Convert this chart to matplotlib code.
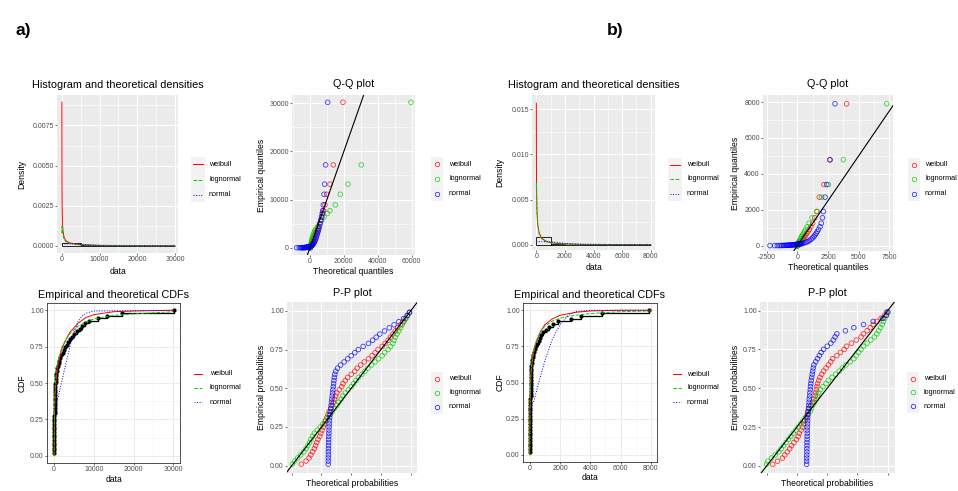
import numpy as np
import matplotlib
matplotlib.use("Agg")
import matplotlib.pyplot as plt
from matplotlib.lines import Line2D
from matplotlib.patches import Rectangle

plt.rcParams["font.family"] = ["Liberation Sans", "DejaVu Sans"]

W, H = 958, 491

# ==============================================================
# DATA
# ==============================================================

dist_names = ["weibull", "lognormal", "normal"]
fit_colors = ["#FF0000", "#00CD00", "#0000FF"]
fit_styles = ["-", "--", ":"]

# ---------- a) sample (sorted empirical quantiles) ----------
emp_a = [2, 5, 8, 12, 16, 20, 25, 30, 36, 42, 50, 58, 66, 75, 85, 96, 108, 120,
         135, 150, 168, 186, 205, 228, 252, 280, 310, 345, 385, 440,
         520, 640, 780, 940, 1120, 1340, 1580, 1850,
         2150, 2500, 2850, 3200, 3550, 3900,
         4400, 5000, 5700, 6400, 7100, 7700,
         8900, 11100, 13200, 17200, 30200]
qq_weib_a = [0, 1, 3, 6, 10, 15, 21, 28, 36, 45, 56, 68, 81, 96, 112, 130, 150, 172,
             196, 222, 250, 281, 314, 350, 390, 433, 480, 530, 585, 645,
             710, 850, 1010, 1190, 1390, 1610, 1860, 2140,
             2450, 2790, 3160, 3570, 4020, 4510,
             5050, 5650, 6320, 7070, 7600, 8100,
             8860, 9840, 11800, 13780, 19480]
qq_logn_a = [2, 5, 9, 13, 18, 24, 30, 37, 45, 53, 62, 72, 83, 95, 108, 122, 137, 153,
             171, 190, 211, 234, 259, 286, 316, 349, 385, 425, 470, 520,
             575, 640, 715, 800, 900, 1020, 1160, 1330,
             1500, 1800, 2150, 2550, 3000, 3500,
             4600, 5600, 6900, 8300, 10200, 11800,
             14960, 17900, 22400, 30300, 59600]
qq_norm_a = [-7850, -6400, -5600, -5000, -4550, -4150, -3800, -3480, -3200, -2930,
             -2680, -2440, -2210, -1990, -1780, -1570, -1370, -1170, -980, -790,
             -600, -420, -240, -60, 120, 300, 480, 660, 840, 1030,
             1300, 1600, 1900, 2200, 2500, 2800, 3100, 3400,
             3700, 4000, 4300, 4600, 4900, 5200,
             5600, 6000, 6400, 6800, 7200, 7500,
             7870, 8270, 8660, 9260, 10450]

# ---------- b) sample ----------
emp_b = [1, 2, 3, 4, 6, 8, 10, 12, 14, 16, 19, 22, 25, 28, 31, 35, 39, 43, 47, 52,
         57, 62, 67, 72, 77, 82, 87, 92, 97, 102, 108, 115,
         140, 170, 200, 240, 290,
         360, 430, 510, 590, 680, 780,
         900, 1050, 1250, 1550, 1900,
         2700, 3400, 4780, 7900]
qq_weib_b = [0, 0, 1, 1, 2, 3, 4, 5, 7, 9, 11, 13, 16, 19, 22, 26, 30, 34, 39, 44,
             50, 56, 62, 69, 76, 84, 92, 101, 110, 120, 131, 143,
             190, 230, 270, 320, 380,
             450, 520, 600, 680, 770, 870,
             980, 1100, 1250, 1420, 1600,
             1790, 2170, 2660, 4020]
qq_logn_b = [1, 2, 3, 4, 5, 6, 7, 8, 9, 10, 12, 14, 16, 18, 20, 22, 24, 27, 30, 33,
             36, 39, 42, 46, 50, 54, 58, 62, 67, 72, 77, 82,
             85, 105, 130, 160, 200,
             250, 300, 360, 420, 500, 580,
             680, 800, 950, 1200, 1580,
             1980, 2530, 3750, 7290]
qq_norm_b = [-2230, -1850, -1630, -1470, -1340, -1230, -1130, -1040, -955, -875,
             -800, -730, -660, -595, -530, -470, -410, -350, -295, -240,
             -185, -130, -78, -25, 25, 75, 125, 175, 225, 275, 330, 390,
             500, 620, 760, 880, 1000,
             1120, 1250, 1350, 1440, 1530, 1620,
             1720, 1850, 1950, 2050, 2120,
             2260, 2400, 2660, 3070]

# ---------- histograms ----------
hist_edges_a = [0, 5000, 10000, 15000, 20000, 25000, 30000]
hist_dens_a = [0.00017, 0.000024, 0.000003, 0.000002, 0.0, 0.000002]
hist_edges_b = [0, 1000, 2000, 3000, 4000, 5000, 6000, 7000, 8000]
hist_dens_b = [0.00089, 0.00005, 0.00001, 0.00001, 0.00001, 0.0, 0.0, 0.00001]

dens_x_a = [5, 20, 60, 150, 300, 600, 1000, 2000, 5000, 10000, 20000, 30000]
dens_weib_a = [0.00896, 0.0045, 0.0025, 0.0014, 0.0009, 0.0005, 0.00033, 0.00018,
               0.00007, 0.00003, 0.00001, 0.000003]
dens_logn_a = [0.0008, 0.0012, 0.0011, 0.0008, 0.0006, 0.0004, 0.00027, 0.00014,
               0.00005, 0.00002, 0.000006, 0.000003]
dens_nx_a = [0, 2000, 4000, 6000, 8000, 10000, 12000, 30000]
dens_norm_a = [0.00011, 0.00012, 0.0001, 0.00006, 0.00003, 0.00001, 0.0, 0.0]

dens_x_b = [3, 10, 25, 50, 100, 200, 350, 500, 800, 1200, 2000, 3000, 5000, 8000]
dens_weib_b = [0.0157, 0.009, 0.0055, 0.0036, 0.0022, 0.0013, 0.0008, 0.00055,
               0.0003, 0.00017, 0.00007, 0.00003, 0.00001, 0.0]
dens_logn_b = [0.0065, 0.0068, 0.0052, 0.0036, 0.0022, 0.0012, 0.0007, 0.00045,
               0.00025, 0.00014, 0.00006, 0.00003, 0.00001, 0.000003]
dens_nx_b = [0, 1000, 2000, 3000, 4000, 8000]
dens_norm_b = [0.00032, 0.00032, 0.00014, 0.00003, 0.0, 0.0]

# ---------- theoretical CDFs ----------
cdf_x_a = [0, 100, 300, 600, 1000, 2000, 3000, 4000, 6000, 8000, 10000, 15000, 20000, 30000]
cdf_weib_a = [0, 0.3, 0.45, 0.55, 0.63, 0.74, 0.8, 0.85, 0.91, 0.95, 0.97, 0.99, 0.995, 1.0]
cdf_logn_a = [0, 0.35, 0.5, 0.6, 0.66, 0.75, 0.8, 0.84, 0.89, 0.92, 0.94, 0.965, 0.975, 0.99]
cdf_nx_a = [0, 500, 1000, 2000, 3000, 4000, 5000, 6000, 7000, 8000, 10000, 30000]
cdf_norm_a = [0.32, 0.36, 0.40, 0.52, 0.64, 0.75, 0.85, 0.92, 0.96, 0.98, 0.995, 1.0]

cdf_x_b = [0, 20, 50, 100, 200, 400, 700, 1000, 1500, 2000, 3000, 4000, 6000, 8000]
cdf_weib_b = [0, 0.3, 0.45, 0.57, 0.67, 0.77, 0.85, 0.9, 0.94, 0.965, 0.985, 0.995, 1.0, 1.0]
cdf_logn_b = [0, 0.35, 0.5, 0.6, 0.69, 0.78, 0.85, 0.89, 0.925, 0.945, 0.965, 0.977, 0.99, 0.995]
cdf_nx_b = [0, 300, 600, 1000, 1500, 2000, 2500, 3000, 4000, 8000]
cdf_norm_b = [0.3, 0.38, 0.5, 0.65, 0.8, 0.9, 0.96, 0.99, 1.0, 1.0]

# ---------- P-P plots ----------
pp_prob = [0.01, 0.03, 0.05, 0.07, 0.09, 0.11, 0.13, 0.15, 0.17, 0.19,
           0.21, 0.23, 0.25, 0.27, 0.29, 0.31, 0.33, 0.35, 0.37, 0.39,
           0.41, 0.43, 0.45, 0.47, 0.49, 0.51, 0.53, 0.55, 0.57, 0.59,
           0.61, 0.63, 0.65, 0.67, 0.69, 0.71, 0.73, 0.75, 0.77, 0.79,
           0.81, 0.83, 0.85, 0.87, 0.89, 0.91, 0.93, 0.95, 0.97, 0.99]
pp_weib_a = [0.08, 0.12, 0.145, 0.16, 0.175, 0.19, 0.2, 0.21, 0.22, 0.235,
             0.245, 0.255, 0.265, 0.275, 0.285, 0.295, 0.305, 0.315, 0.33, 0.34,
             0.35, 0.36, 0.37, 0.38, 0.4, 0.42, 0.43, 0.45, 0.47, 0.5,
             0.53, 0.55, 0.58, 0.61, 0.645, 0.675, 0.7, 0.725, 0.76, 0.785,
             0.81, 0.83, 0.85, 0.87, 0.89, 0.915, 0.935, 0.955, 0.975, 0.99]
pp_logn_a = [0.005, 0.025, 0.05, 0.075, 0.1, 0.12, 0.135, 0.15, 0.16, 0.175,
             0.19, 0.215, 0.24, 0.26, 0.28, 0.3, 0.32, 0.34, 0.36, 0.38,
             0.395, 0.415, 0.43, 0.45, 0.475, 0.5, 0.52, 0.54, 0.56, 0.59,
             0.615, 0.64, 0.67, 0.7, 0.73, 0.76, 0.78, 0.81, 0.83, 0.85,
             0.86, 0.87, 0.885, 0.9, 0.915, 0.93, 0.945, 0.96, 0.975, 0.99]
pp_norm_a = [0.306, 0.307, 0.307, 0.308, 0.308, 0.309, 0.309, 0.310, 0.310, 0.311,
             0.312, 0.313, 0.314, 0.315, 0.317, 0.319, 0.322, 0.325, 0.328, 0.331,
             0.334, 0.337, 0.34, 0.343, 0.346, 0.349, 0.352, 0.355, 0.358, 0.362,
             0.37, 0.385, 0.41, 0.44, 0.47, 0.5, 0.53, 0.56, 0.6, 0.645,
             0.68, 0.71, 0.74, 0.78, 0.82, 0.86, 0.9, 0.94, 0.97, 0.99]
pp_weib_b = [0.05, 0.09, 0.13, 0.15, 0.17, 0.19, 0.205, 0.225, 0.245, 0.26,
             0.27, 0.285, 0.295, 0.305, 0.315, 0.325, 0.335, 0.34, 0.35, 0.365,
             0.38, 0.39, 0.4, 0.405, 0.41, 0.415, 0.42, 0.43, 0.44, 0.455,
             0.47, 0.49, 0.51, 0.53, 0.545, 0.58, 0.61, 0.64, 0.66, 0.7,
             0.74, 0.78, 0.8, 0.83, 0.855, 0.88, 0.91, 0.945, 0.975, 0.99]
pp_logn_b = [0.0, 0.01, 0.04, 0.07, 0.1, 0.12, 0.14, 0.16, 0.18, 0.2,
             0.22, 0.24, 0.26, 0.28, 0.3, 0.32, 0.34, 0.36, 0.37, 0.38,
             0.395, 0.41, 0.42, 0.43, 0.445, 0.465, 0.49, 0.51, 0.54, 0.57,
             0.6, 0.625, 0.655, 0.69, 0.72, 0.74, 0.76, 0.78, 0.8, 0.83,
             0.86, 0.89, 0.91, 0.925, 0.94, 0.955, 0.965, 0.975, 0.99, 1.0]
pp_norm_b = [0.330, 0.330, 0.331, 0.331, 0.332, 0.332, 0.333, 0.333, 0.334, 0.334,
             0.335, 0.335, 0.336, 0.337, 0.338, 0.339, 0.341, 0.343, 0.345, 0.348,
             0.35, 0.352, 0.355, 0.357, 0.36, 0.362, 0.365, 0.368, 0.372, 0.376,
             0.38, 0.385, 0.39, 0.405, 0.42, 0.435, 0.45, 0.47, 0.5, 0.53,
             0.55, 0.565, 0.58, 0.65, 0.72, 0.8, 0.88, 0.96, 0.99, 1.0]

prob_ticks = [0.0, 0.25, 0.5, 0.75, 1.0]
prob_labels = ["0.00", "0.25", "0.50", "0.75", "1.00"]

# ==============================================================
# HELPERS
# ==============================================================

TITLE_FS = 7.8
LABEL_FS = 6.2
TICK_FS = 5.0
LEG_FS = 5.2


def fx(x):
    return x / W


def fy(y):
    return 1 - y / H


def add_panel(fig, l, t, r, b):
    ax = fig.add_axes([fx(l), fy(b), (r - l) / W, (b - t) / H])
    ax._px = (l, t, r, b)
    return ax


def minor_between(ticks, lim):
    step = ticks[1] - ticks[0]
    m = np.arange(ticks[0] - step / 2, ticks[-1] + step, step)
    return [v for v in m if lim[0] <= v <= lim[1]]


def style(ax, theme, xlim, ylim, xticks, yticks, xlabels, ylabels):
    ax.set_xlim(*xlim)
    ax.set_ylim(*ylim)
    ax.set_xticks(xticks)
    ax.set_yticks(yticks)
    ax.set_xticklabels(xlabels)
    ax.set_yticklabels(ylabels)
    ax.set_xticks(minor_between(xticks, xlim), minor=True)
    ax.set_yticks(minor_between(yticks, ylim), minor=True)
    ax.tick_params(which="major", length=1.5, width=0.5, color="#333333",
                   labelsize=TICK_FS, labelcolor="#4D4D4D", pad=0.8)
    ax.tick_params(which="minor", length=0)
    ax.set_axisbelow(True)
    if theme == "grey":
        ax.set_facecolor("#EBEBEB")
        for s in ax.spines.values():
            s.set_visible(False)
        ax.grid(which="major", color="white", lw=0.8)
        ax.grid(which="minor", color="white", lw=0.4)
    else:
        ax.set_facecolor("white")
        for s in ax.spines.values():
            s.set_color("#333333")
            s.set_linewidth(0.6)
        ax.grid(which="major", color="#EBEBEB", lw=0.7)
        ax.grid(which="minor", color="#F2F2F2", lw=0.4)


def texts(ax, title, xlabel, ylabel, title_y, xlabel_y, ylabel_x):
    l, t, r, b = ax._px
    ax.text(0.5, (b - title_y) / (b - t), title, transform=ax.transAxes,
            ha="center", va="center", fontsize=TITLE_FS)
    ax.set_xlabel(xlabel, fontsize=LABEL_FS)
    ax.set_ylabel(ylabel, fontsize=LABEL_FS)
    ax.xaxis.set_label_coords(0.5, (b - xlabel_y) / (b - t))
    ax.yaxis.set_label_coords((ylabel_x - l) / (r - l), 0.5)
    ax.xaxis.label.set_va("center")
    ax.yaxis.label.set_va("center")
    ax.yaxis.label.set_ha("center")


def legend_lines(fig, x0, x1, xt, ys, grey_bg):
    if grey_bg:
        fig.add_artist(Rectangle((fx(x0 - 2), fy(ys[-1] + 7)), (x1 - x0 + 4) / W,
                                 (ys[-1] - ys[0] + 14) / H, transform=fig.transFigure,
                                 facecolor="#F2F2F2", edgecolor="none"))
    for name, col, ls, y in zip(dist_names, fit_colors, fit_styles, ys):
        fig.add_artist(Line2D([fx(x0), fx(x1)], [fy(y), fy(y)], transform=fig.transFigure,
                              color=col, ls=ls, lw=0.7))
        fig.text(fx(xt), fy(y), name, fontsize=LEG_FS, ha="left", va="center")


def legend_points(fig, xc, xt, ys):
    fig.add_artist(Rectangle((fx(xc - 6), fy(ys[-1] + 7)), 12 / W,
                             (ys[-1] - ys[0] + 14) / H, transform=fig.transFigure,
                             facecolor="#F2F2F2", edgecolor="none"))
    for name, col, y in zip(dist_names, fit_colors, ys):
        fig.add_artist(Line2D([fx(xc)], [fy(y)], transform=fig.transFigure, ls="none",
                              marker="o", ms=3.2, mfc="none", mec=col, mew=0.6, alpha=0.8))
        fig.text(fx(xt), fy(y), name, fontsize=LEG_FS, ha="left", va="center")


def density_panel(ax, edges, dens, xs, weib, logn, nxs, norm):
    ax.bar(edges[:-1], dens, width=np.diff(edges), align="edge", fill=False,
           edgecolor="black", lw=0.6)
    ax.plot(xs, weib, color=fit_colors[0], ls=fit_styles[0], lw=0.7)
    ax.plot(xs, logn, color=fit_colors[1], ls=fit_styles[1], lw=0.7)
    ax.plot(nxs, norm, color=fit_colors[2], ls=fit_styles[2], lw=0.7)


def qq_panel(ax, emp, theo_list):
    for theo, col in zip(theo_list, fit_colors):
        ax.scatter(theo, emp, s=11, facecolors="none", edgecolors=col, lw=0.6, alpha=0.75)
    ax.axline((0, 0), slope=1, color="black", lw=0.8)


def cdf_panel(ax, emp, curves):
    emp = np.sort(emp)
    ecdf = np.arange(1, len(emp) + 1) / len(emp)
    ax.step(emp, ecdf, where="post", color="black", lw=0.9)
    ax.plot(emp, ecdf, "o", color="black", ms=2.0)
    for (xs, ys), col, ls in zip(curves, fit_colors, fit_styles):
        ax.plot(xs, ys, color=col, ls=ls, lw=0.7)


# ==============================================================
# FIGURE
# ==============================================================

fig = plt.figure(figsize=(W / 100, H / 100), dpi=100)

fig.text(fx(15), fy(30), "a)", fontsize=12.5, fontweight="bold", ha="left", va="center")
fig.text(fx(607), fy(30), "b)", fontsize=12.5, fontweight="bold", ha="left", va="center")

# ---------------- a) histogram ----------------
ax = add_panel(fig, 57, 95, 178, 253)
density_panel(ax, hist_edges_a, hist_dens_a, dens_x_a, dens_weib_a, dens_logn_a,
              dens_nx_a, dens_norm_a)
style(ax, "grey", (-1300, 30800), (-0.00045, 0.0094),
      [0, 10000, 20000, 30000], [0, 0.0025, 0.005, 0.0075],
      ["0", "10000", "20000", "30000"], ["0.0000", "0.0025", "0.0050", "0.0075"])
texts(ax, "Histogram and theoretical densities", "data", "Density", 85, 272, 22)
legend_lines(fig, 193, 203, 209, [164, 179.5, 194.5], True)

# ---------------- a) Q-Q ----------------
ax = add_panel(fig, 292, 95, 415, 255)
qq_panel(ax, emp_a, [qq_weib_a, qq_logn_a, qq_norm_a])
style(ax, "grey", (-10600, 62000), (-1510, 31710),
      [0, 20000, 40000, 60000], [0, 10000, 20000, 30000],
      ["0", "20000", "40000", "60000"], ["0", "10000", "20000", "30000"])
texts(ax, "Q-Q plot", "Theoretical quantiles", "Empirical quantiles", 84, 272, 262)
legend_points(fig, 437, 449, [164, 179, 193.5])

# ---------------- a) CDF ----------------
ax = add_panel(fig, 47, 303, 180, 463)
cdf_panel(ax, emp_a, [(cdf_x_a, cdf_weib_a), (cdf_x_a, cdf_logn_a), (cdf_nx_a, cdf_norm_a)])
style(ax, "bw", (-1800, 31700), (-0.05, 1.05),
      [0, 10000, 20000, 30000], prob_ticks,
      ["0", "10000", "20000", "30000"], prob_labels)
texts(ax, "Empirical and theoretical CDFs", "data", "CDF", 295, 479, 22)
legend_lines(fig, 194, 202, 210, [373.5, 387.5, 402], False)

# ---------------- a) P-P ----------------
ax = add_panel(fig, 287, 302, 417, 473)
qq_panel(ax, pp_prob, [pp_weib_a, pp_logn_a, pp_norm_a])
style(ax, "grey", (-0.04, 1.053), (-0.047, 1.057),
      prob_ticks, prob_ticks, ["", "", "", "", ""], prob_labels)
texts(ax, "P-P plot", "Theoretical probabilities", "Empirical probabilities", 293, 483, 262)
legend_points(fig, 437, 449, [378.5, 392.5, 406.5])

# ---------------- b) histogram ----------------
ax = add_panel(fig, 532, 95, 655, 250)
density_panel(ax, hist_edges_b, hist_dens_b, dens_x_b, dens_weib_b, dens_logn_b,
              dens_nx_b, dens_norm_b)
style(ax, "grey", (-300, 8300), (-0.0006, 0.0166),
      [0, 2000, 4000, 6000, 8000], [0, 0.005, 0.010, 0.015],
      ["0", "2000", "4000", "6000", "8000"], ["0.000", "0.005", "0.010", "0.015"])
texts(ax, "Histogram and theoretical densities", "data", "Density", 85, 268, 500)
legend_lines(fig, 670, 680, 687, [165, 179, 193.5], True)

# ---------------- b) Q-Q ----------------
ax = add_panel(fig, 763, 95, 893, 251)
qq_panel(ax, emp_b, [qq_weib_b, qq_logn_b, qq_norm_b])
style(ax, "grey", (-2800, 7800), (-300, 8390),
      [-2500, 0, 2500, 5000, 7500], [0, 2000, 4000, 6000, 8000],
      ["-2500", "0", "2500", "5000", "7500"], ["0", "2000", "4000", "6000", "8000"])
texts(ax, "Q-Q plot", "Theoretical quantiles", "Empirical quantiles", 84, 268, 736)
legend_points(fig, 914, 925, [165, 179, 193.5])

# ---------------- b) CDF ----------------
ax = add_panel(fig, 523, 303, 657, 462)
cdf_panel(ax, emp_b, [(cdf_x_b, cdf_weib_b), (cdf_x_b, cdf_logn_b), (cdf_nx_b, cdf_norm_b)])
style(ax, "bw", (-440, 8400), (-0.05, 1.05),
      [0, 2000, 4000, 6000, 8000], prob_ticks,
      ["0", "2000", "4000", "6000", "8000"], prob_labels)
texts(ax, "Empirical and theoretical CDFs", "data", "CDF", 295, 478, 500)
legend_lines(fig, 673, 681, 687, [374, 387.5, 402], False)

# ---------------- b) P-P ----------------
ax = add_panel(fig, 760, 302, 895, 473)
qq_panel(ax, pp_prob, [pp_weib_b, pp_logn_b, pp_norm_b])
style(ax, "grey", (-0.055, 1.06), (-0.046, 1.055),
      prob_ticks, prob_ticks, ["", "", "", "", ""], prob_labels)
texts(ax, "P-P plot", "Theoretical probabilities", "Empirical probabilities", 293, 483, 736)
legend_points(fig, 913, 924, [378.5, 392, 406])

fig.savefig("out.png", dpi=100, facecolor="white")
